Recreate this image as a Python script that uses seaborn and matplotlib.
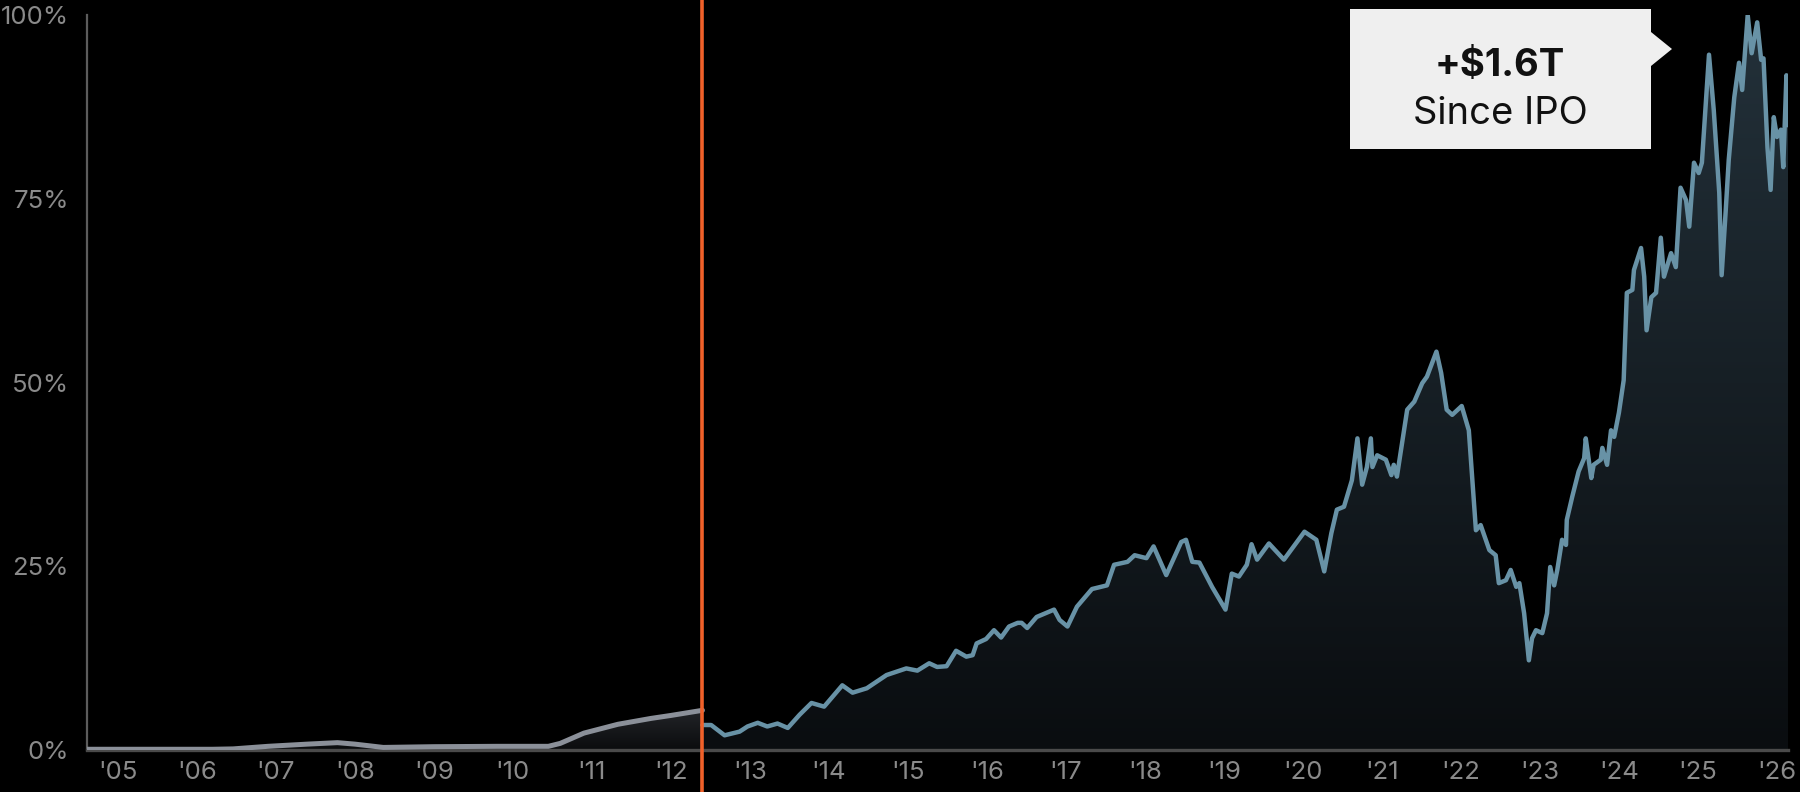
import numpy as np
import pandas as pd
import matplotlib
matplotlib.use("Agg")
import matplotlib.pyplot as plt
import seaborn as sns
from matplotlib.patches import Polygon
from matplotlib.colors import LinearSegmentedColormap

# ---------------- data ----------------
pre_ipo_year = [2004.61, 2005.5, 2006.2, 2006.46, 2006.9, 2007.4, 2007.78, 2008.0,
                2008.36, 2009.0, 2009.8, 2010.45, 2010.6, 2010.9, 2011.33, 2011.75,
                2012.0, 2012.40]
pre_ipo_pct = [0.1, 0.1, 0.1, 0.15, 0.5, 0.8, 1.0, 0.8,
               0.35, 0.45, 0.5, 0.5, 0.9, 2.3, 3.5, 4.3,
               4.7, 5.4]

post_ipo_year = [
    2012.40, 2012.51, 2012.68, 2012.87, 2012.97, 2013.10, 2013.22, 2013.35, 2013.48, 2013.63,
    2013.78, 2013.94, 2014.17, 2014.30, 2014.48, 2014.73, 2014.98, 2015.12, 2015.27, 2015.37,
    2015.49, 2015.61, 2015.74, 2015.82, 2015.87, 2015.99, 2016.09, 2016.18, 2016.28, 2016.39,
    2016.44, 2016.51, 2016.63, 2016.85, 2016.92, 2017.02, 2017.14, 2017.33, 2017.52, 2017.61,
    2017.78, 2017.87, 2018.02, 2018.11, 2018.27, 2018.46, 2018.52, 2018.60, 2018.69, 2018.85,
    2019.02, 2019.10, 2019.19, 2019.29, 2019.35, 2019.42, 2019.57, 2019.76, 2020.02, 2020.17,
    2020.27, 2020.36, 2020.43, 2020.52, 2020.62, 2020.69, 2020.75, 2020.81, 2020.86, 2020.88,
    2020.94, 2021.05, 2021.12, 2021.15, 2021.19, 2021.32, 2021.41, 2021.51, 2021.57, 2021.69,
    2021.75, 2021.82, 2021.89, 2022.01, 2022.10, 2022.19, 2022.25, 2022.36, 2022.44, 2022.48,
    2022.57, 2022.63, 2022.70, 2022.74, 2022.80, 2022.86, 2022.90, 2022.95, 2023.03, 2023.09,
    2023.13, 2023.18, 2023.22, 2023.28, 2023.33, 2023.34, 2023.41, 2023.49, 2023.56, 2023.58,
    2023.65, 2023.68, 2023.77, 2023.79, 2023.85, 2023.90, 2023.94, 2024.00, 2024.06, 2024.10,
    2024.17, 2024.19, 2024.28, 2024.32, 2024.35, 2024.41, 2024.47, 2024.53, 2024.57, 2024.66,
    2024.72, 2024.78, 2024.85, 2024.89, 2024.95, 2025.01, 2025.05, 2025.14, 2025.20, 2025.27,
    2025.30, 2025.35, 2025.39, 2025.46, 2025.52, 2025.56, 2025.63, 2025.68, 2025.75, 2025.80,
    2025.83, 2025.88, 2025.92, 2025.96, 2026.00, 2026.05, 2026.08, 2026.12, 2026.14]
post_ipo_pct = [
    3.4, 3.4, 2.0, 2.5, 3.2, 3.7, 3.2, 3.6, 3.0, 4.8,
    6.4, 5.9, 8.8, 7.8, 8.4, 10.2, 11.1, 10.8, 11.8, 11.3,
    11.4, 13.5, 12.7, 12.9, 14.5, 15.1, 16.3, 15.3, 16.8, 17.3,
    17.3, 16.6, 18.1, 19.1, 17.7, 16.8, 19.5, 21.9, 22.4, 25.2,
    25.6, 26.5, 26.1, 27.7, 23.8, 28.3, 28.6, 25.6, 25.5, 22.2,
    19.1, 24.0, 23.6, 25.2, 28.0, 25.9, 28.1, 25.9, 29.7, 28.6,
    24.3, 29.5, 32.7, 33.1, 36.7, 42.4, 36.1, 38.5, 42.4, 38.5,
    40.1, 39.5, 37.4, 38.8, 37.2, 46.3, 47.4, 49.9, 50.8, 54.2,
    51.3, 46.3, 45.6, 46.8, 43.5, 29.9, 30.6, 27.2, 26.5, 22.7,
    23.1, 24.5, 22.2, 22.7, 18.6, 12.2, 15.2, 16.3, 15.9, 18.6,
    24.9, 22.4, 24.5, 28.6, 27.9, 31.3, 34.5, 37.9, 39.7, 42.4,
    37.0, 38.8, 39.5, 41.1, 38.8, 43.5, 42.6, 45.9, 50.3, 62.2,
    62.6, 65.3, 68.3, 64.4, 57.1, 61.6, 62.2, 69.7, 64.4, 67.6,
    65.7, 76.5, 74.8, 71.2, 79.9, 78.5, 79.9, 94.6, 87.1, 75.8,
    64.6, 73.1, 80.3, 88.8, 93.5, 89.8, 100.0, 94.8, 99.0, 93.9,
    94.1, 82.0, 76.2, 86.1, 83.4, 84.4, 79.3, 91.8, 85.0]

ipo_year = 2012.40
x_ticks = list(range(2005, 2027))
x_tick_labels = ["'%02d" % (y % 100) for y in x_ticks]
y_ticks = [0, 25, 50, 75, 100]
y_tick_labels = ["0%", "25%", "50%", "75%", "100%"]
annotation_lines = ["+$1.6T", "Since IPO"]

# ---------------- style ----------------
sns.set_theme(style="dark", rc={
    "figure.facecolor": "black",
    "axes.facecolor": "black",
    "savefig.facecolor": "black",
})
plt.rcParams["font.family"] = ["Inter", "DejaVu Sans"]

W, H = 1800, 792
fig = plt.figure(figsize=(18, 7.92), dpi=100)
ax = fig.add_axes([87 / W, 1 - 750 / H, (1788 - 87) / W, (750 - 15) / H])

pre = pd.DataFrame({"year": pre_ipo_year, "pct": pre_ipo_pct})
post = pd.DataFrame({"year": post_ipo_year, "pct": post_ipo_pct})

xmin, xmax = 2004.61, 2026.14
ax.set_xlim(xmin, xmax)
ax.set_ylim(0, 100)

# gradient fills
def gradient_fill(df, top_color, bottom_color, top_val, z):
    poly = ax.fill_between(df["year"], df["pct"], 0, color="none", lw=0, zorder=z)
    cmap = LinearSegmentedColormap.from_list("g", [bottom_color, top_color])
    grad = np.linspace(0, 1, 256).reshape(-1, 1)
    im = ax.imshow(grad, cmap=cmap, aspect="auto", origin="lower",
                   extent=[xmin, xmax, 0, top_val], zorder=z, interpolation="bilinear")
    im.set_clip_path(poly.get_paths()[0], transform=ax.transData)

gradient_fill(pre, "#25272b", "#0b0c0e", 6, 1)
gradient_fill(post, "#23313a", "#0a0d10", 100, 1)
ax.set_xlim(xmin, xmax)
ax.set_ylim(0, 100)

sns.lineplot(data=pre, x="year", y="pct", ax=ax, color="#8b9099", lw=3.6,
             sort=False, zorder=3, solid_capstyle="round", solid_joinstyle="round")
sns.lineplot(data=post, x="year", y="pct", ax=ax, color="#6892a6", lw=3.2,
             sort=False, zorder=3, solid_joinstyle="round")

# IPO vertical line spanning full figure height
ax.axvline(ipo_year, ymin=-0.06, ymax=1.03, color="#f0612a", lw=2.6,
           clip_on=False, zorder=5)

# axes styling
ax.set_xticks(x_ticks)
ax.set_xticklabels(x_tick_labels)
ax.set_yticks(y_ticks)
ax.set_yticklabels(y_tick_labels)
ax.set_xlabel("")
ax.set_ylabel("")
ax.grid(False)
ax.tick_params(axis="both", length=0, colors="#8a8a8a", labelsize=18.5)
ax.tick_params(axis="y", pad=13)
ax.tick_params(axis="x", pad=8)
for s in ["top", "right"]:
    ax.spines[s].set_visible(False)
ax.spines["left"].set_visible(True)
ax.spines["left"].set_color("#5c5c5c")
ax.spines["left"].set_linewidth(1.6)
ax.spines["bottom"].set_visible(True)
ax.spines["bottom"].set_color("#4a4a4a")
ax.spines["bottom"].set_linewidth(2.4)

# annotation callout (figure pixel layout)
def fp(x, y):
    return (x / W, 1 - y / H)

pts = [fp(1350, 9), fp(1651, 9), fp(1651, 32), fp(1672, 49), fp(1651, 66),
       fp(1651, 149), fp(1350, 149)]
fig.patches.append(Polygon(pts, closed=True, transform=fig.transFigure,
                           facecolor="#efefef", edgecolor="none", zorder=10))
fig.text(*fp(1500, 66), annotation_lines[0], ha="center", va="center",
         fontsize=27.5, fontweight="bold", color="#111111", zorder=11)
fig.text(*fp(1500, 114), annotation_lines[1], ha="center", va="center",
         fontsize=27.5, color="#111111", zorder=11)

fig.savefig("out.png", dpi=100, facecolor="black")
